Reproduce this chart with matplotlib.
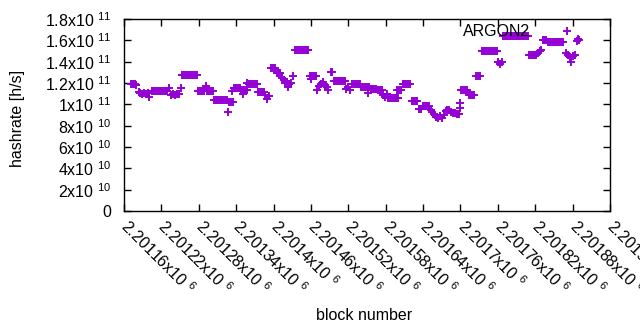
import matplotlib
matplotlib.use("Agg")
import matplotlib.pyplot as plt
import matplotlib.transforms as mtransforms
import numpy as np

plt.rcParams['font.family'] = ['Liberation Sans', 'DejaVu Sans']
plt.rcParams['mathtext.fontset'] = 'custom'
plt.rcParams['mathtext.rm'] = 'Liberation Sans'
plt.rcParams['mathtext.it'] = 'Liberation Sans:italic'
plt.rcParams['mathtext.bf'] = 'Liberation Sans:bold'

BASE_BLOCK = 2201160
block_offset = [
    11, 14, 17, 20,
    24, 26, 29, 32, 35, 38, 40,
    45, 48, 51, 54, 57, 60, 63, 66, 69, 73,
    76, 79, 82, 85, 88, 91,
    93, 96, 99, 102, 105, 108, 111, 114, 117,
    119, 122, 125, 128, 134, 137, 140, 143, 132,
    144, 147, 150, 153, 156, 159, 162, 165, 167, 169, 172, 175,
    173, 177, 180, 183, 186, 188, 191, 194, 197, 191, 198,
    201, 204, 207, 210, 213,
    215, 218, 221, 224, 226, 229, 232,
    236, 239, 242, 245, 248, 251, 253, 256, 259, 262, 265, 268, 271, 263,
    275, 278, 281, 284, 287, 290, 293, 296,
    299, 302, 305, 308, 300,
    310, 313, 316, 319, 322, 325, 327,
    332, 334,
    337, 340, 343, 346, 349, 352, 355,
    357, 360, 363,
    366, 369, 372, 375, 378,
    381, 384, 387, 390, 393, 392,
    396, 399, 402, 405,
    408, 411, 414,
    416, 419, 422,
    424, 427, 430, 433, 436,
    438, 441, 444, 440,
    447, 450, 453, 456, 459,
    462, 465, 468, 471,
    474, 477,
    480, 483, 486, 489,
    492, 495, 498, 501, 504, 507, 510, 513, 516, 519, 522, 525, 528, 531, 534, 537, 539, 540,
    541, 544, 547, 550,
    553, 556, 559, 562,
    565, 568, 571,
    574, 577, 580, 583, 586, 589, 592, 595, 598,
    600, 603, 606,
    609, 612, 615, 618, 621, 624, 627, 630, 633, 636, 639, 642, 645, 648,
    650, 653, 656, 659, 662,
    664, 667, 670,
    672, 675, 678,
    681, 684, 687, 690, 693, 696, 699, 702, 705,
    709, 712, 715, 718, 721, 724,
    727, 729, 731,
]
hashrate_ghs = [
    118.6, 119.0, 118.6, 118.2,
    111.8, 110.6, 109.5, 110.8, 109.8, 110.2, 107.2,
    112.5, 112.5, 112.5, 112.5, 112.5, 112.5, 112.5, 112.5, 112.5, 115.0,
    108.5, 109.7, 109.0, 110.0, 109.5, 115.0,
    127.5, 127.5, 127.5, 127.5, 127.5, 127.5, 127.5, 127.5, 127.5,
    112.5, 112.5, 112.5, 112.5, 112.5, 112.5, 112.5, 112.5, 117.2,
    104.0, 104.0, 104.0, 104.0, 104.0, 104.0, 104.0, 104.0, 93.1, 102.2, 102.2, 102.2,
    112.8, 115.3, 115.3, 115.3, 115.3, 113.4, 113.4, 113.4, 113.4, 109.7, 119.7,
    119.5, 119.5, 119.5, 119.5, 119.5,
    111.6, 111.6, 111.6, 111.6, 108.75, 105.0, 108.0,
    134.0, 134.0, 134.0, 129.4, 129.4, 129.4, 125.0, 122.5, 120.0, 120.5, 119.5, 120.0, 126.6, 116.0,
    151.4, 151.4, 151.4, 151.4, 151.4, 151.4, 151.4, 151.4,
    126.6, 126.6, 126.6, 126.6, 123.5,
    113.5, 117.5, 119.0, 120.5, 118.5, 116.5, 113.5,
    130.3, 130.0,
    121.9, 121.9, 121.9, 121.9, 121.9, 121.9, 121.9,
    114.4, 116.0, 113.0,
    119.5, 119.5, 119.5, 119.5, 119.5,
    115.8, 115.8, 115.8, 115.8, 115.8, 110.6,
    114.8, 114.8, 114.8, 114.8,
    113.4, 113.4, 113.4,
    108.7, 107.0, 110.0,
    105.5, 105.5, 105.5, 105.5, 105.5,
    113.4, 113.4, 113.4, 105.9,
    118.6, 118.6, 118.6, 118.6, 118.6,
    103.1, 103.1, 103.1, 103.1,
    95.6, 95.6,
    98.0, 98.0, 98.0, 98.0,
    95.0, 93.0, 90.5, 88.0, 87.0, 89.0, 87.5, 90.0, 93.5, 95.0, 94.5, 93.0, 92.0, 91.5, 90.5, 91.0, 101.25, 96.6,
    113.4, 113.4, 113.4, 113.4,
    108.3, 108.3, 108.3, 108.3,
    126.1, 126.1, 126.1,
    150.0, 150.0, 150.0, 150.0, 150.0, 150.0, 150.0, 150.0, 150.0,
    139.5, 138.0, 140.0,
    164.0, 164.0, 164.0, 164.0, 164.0, 164.0, 164.0, 164.0, 164.0, 164.0, 164.0, 164.0, 164.0, 164.0,
    146.25, 146.25, 146.25, 146.25, 146.25,
    148.0, 150.0, 151.0,
    160.3, 160.3, 160.3,
    158.4, 158.4, 158.4, 158.4, 158.4, 158.4, 158.4, 158.4, 158.4,
    148.0, 146.0, 144.0, 140.0, 145.0, 146.5,
    159.5, 161.0, 160.0,
]

xtick_values = [2201160, 2201220, 2201280, 2201340, 2201400, 2201460, 2201520,
                2201580, 2201640, 2201700, 2201760, 2201820, 2201880, 2201940]
xtick_labels = ["2.20116x10 $^{6}$", "2.20122x10 $^{6}$", "2.20128x10 $^{6}$",
                "2.20134x10 $^{6}$", "2.2014x10 $^{6}$", "2.20146x10 $^{6}$",
                "2.20152x10 $^{6}$", "2.20158x10 $^{6}$", "2.20164x10 $^{6}$",
                "2.2017x10 $^{6}$", "2.20176x10 $^{6}$", "2.20182x10 $^{6}$",
                "2.20188x10 $^{6}$", "2.20194x10 $^{6}$"]
ytick_values = [0, 2e10, 4e10, 6e10, 8e10, 1e11, 1.2e11, 1.4e11, 1.6e11, 1.8e11]
ytick_labels = ["0", "2x10 $^{10}$", "4x10 $^{10}$", "6x10 $^{10}$", "8x10 $^{10}$",
                "1x10 $^{11}$", "1.2x10 $^{11}$", "1.4x10 $^{11}$", "1.6x10 $^{11}$",
                "1.8x10 $^{11}$"]

blocks = BASE_BLOCK + np.array(block_offset)
hashrate = np.array(hashrate_ghs) * 1e9

color = '#9400D3'
fs = 11.5

fig = plt.figure(figsize=(6.4, 3.3), dpi=100)
ax = fig.add_axes([124/640, 1 - 211/330, 486/640, 192/330])
ax.plot(blocks, hashrate, linestyle='none', marker='+', markersize=6,
        markeredgewidth=1.4, color=color, label='ARGON2', clip_on=False)

ax.set_xlim(2201160, 2201940)
ax.set_ylim(0, 1.8e11)
ax.set_xticks(xtick_values)
ax.set_xticklabels(xtick_labels, rotation=-45, ha='left', va='center',
                   rotation_mode='anchor', fontsize=fs)
shift = mtransforms.ScaledTranslation(3/100, 0, fig.dpi_scale_trans)
for lab in ax.get_xticklabels():
    lab.set_transform(lab.get_transform() + shift)
ax.set_yticks(ytick_values)
ax.set_yticklabels(ytick_labels, fontsize=fs)
ax.tick_params(direction='in', length=5, width=1, top=True, right=True,
               color='black')
ax.tick_params(axis='y', pad=9)
ax.tick_params(axis='x', pad=9)
for s in ax.spines.values():
    s.set_linewidth(1)
    s.set_color('black')

ax.set_xlabel('block number', fontsize=fs)
ax.set_ylabel('hashrate [h/s]', fontsize=fs)
ax.xaxis.set_label_coords((364 - 124) / 486, -(308 - 211) / 192)
ax.yaxis.set_label_coords(-(124 - 25) / 486, (211 - 118) / 192)

leg = ax.legend(loc='center right', bbox_to_anchor=(583/640, 1 - 32/330),
                bbox_transform=fig.transFigure, frameon=False, markerfirst=False,
                fontsize=fs, borderpad=0, borderaxespad=0, handletextpad=1.3,
                handlelength=2.0)

fig.savefig('out.png', dpi=100)
